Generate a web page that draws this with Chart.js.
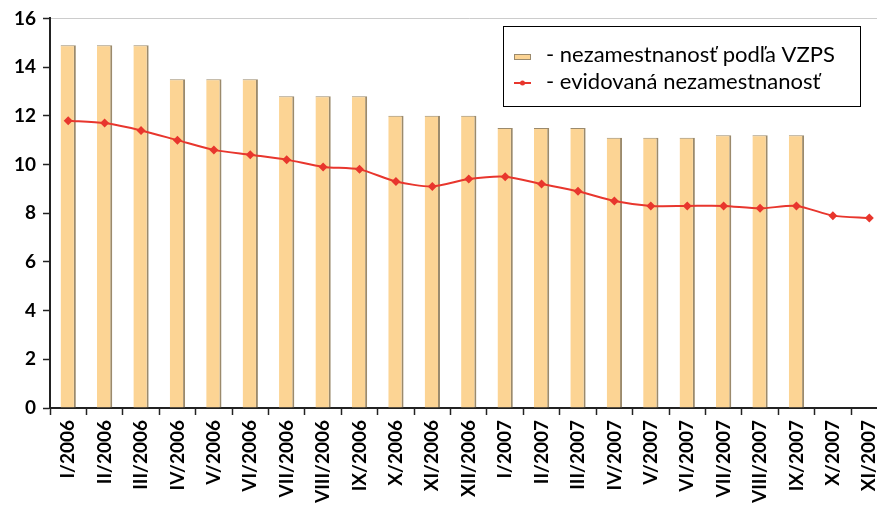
<!DOCTYPE html>
<html>
<head>
<meta charset="utf-8">
<script src="https://cdn.jsdelivr.net/npm/chart.js@4/dist/chart.umd.min.js"></script>
<style>
  html, body { margin: 0; padding: 0; background: #fff; overflow: hidden; }
  #wrap { width: 877px; height: 506px; position: relative; overflow: hidden; }
</style>
</head>
<body>
<!-- the plot runs a little past the right edge, as in the original -->
<div id="wrap"><canvas id="chart" width="892" height="506"></canvas></div>
<script>
// months
const labels = ["I/2006", "II/2006", "III/2006", "IV/2006", "V/2006", "VI/2006", "VII/2006", "VIII/2006",
  "IX/2006", "X/2006", "XI/2006", "XII/2006", "I/2007", "II/2007", "III/2007", "IV/2007", "V/2007",
  "VI/2007", "VII/2007", "VIII/2007", "IX/2007", "X/2007", "XI/2007"];

// nezamestnanost podla VZPS (quarterly, repeated per month)
const vzps = [14.9, 14.9, 14.9, 13.5, 13.5, 13.5, 12.8, 12.8, 12.8, 12.0, 12.0, 12.0,
  11.5, 11.5, 11.5, 11.1, 11.1, 11.1, 11.2, 11.2, 11.2, null, null];

// evidovana nezamestnanost
const evid = [11.8, 11.7, 11.4, 11.0, 10.6, 10.4, 10.2, 9.9, 9.8, 9.3, 9.1, 9.4,
  9.5, 9.2, 8.9, 8.5, 8.3, 8.3, 8.3, 8.2, 8.3, 7.9, 7.8];

const yTicks = [0, 2, 4, 6, 8, 10, 12, 14, 16];

const barColor = "#fcd494";
const barEdge = "#9b8a6c";
const lineColor = "#e8362d";

// legend box like in the original
const boxLegend = {
  id: "boxLegend",
  afterDraw(chart) {
    const ctx = chart.ctx;
    const bars = chart.data.datasets.find(d => d.type === "bar");
    const line = chart.data.datasets.find(d => d.type === "line");
    const x = 503, y = 26, w = 357, h = 80;
    ctx.save();
    ctx.fillStyle = "#fff";
    ctx.fillRect(x, y, w, h);
    ctx.strokeStyle = "#000";
    ctx.lineWidth = 1;
    ctx.strokeRect(x + 0.5, y + 0.5, w, h);

    ctx.font = "22px Lato";
    ctx.textBaseline = "middle";

    // bar item
    ctx.fillStyle = barColor;
    ctx.fillRect(514, 54, 17, 6);
    ctx.strokeStyle = barEdge;
    ctx.strokeRect(514.5, 54.5, 16, 5);
    ctx.fillStyle = "#000";
    ctx.fillText("- " + bars.label, 546, 55);

    // line item
    ctx.strokeStyle = lineColor;
    ctx.lineWidth = 2;
    ctx.beginPath();
    ctx.moveTo(514, 83);
    ctx.lineTo(531, 83);
    ctx.stroke();
    ctx.fillStyle = lineColor;
    ctx.beginPath();
    ctx.arc(522.5, 83, 2.5, 0, Math.PI * 2);
    ctx.fill();
    ctx.fillStyle = "#000";
    ctx.fillText("- " + line.label, 546, 82);
    ctx.restore();
  }
};

new Chart(document.getElementById("chart"), {
  data: {
    labels: labels,
    datasets: [
      {
        type: "line",
        label: "evidovaná nezamestnanosť",
        data: evid,
        borderColor: lineColor,
        backgroundColor: lineColor,
        borderWidth: 2,
        tension: 0.25,
        pointStyle: "rectRot",
        pointRadius: 4.5,
        pointBorderWidth: 0,
        order: 0
      },
      {
        type: "bar",
        label: "nezamestnanosť podľa VZPS",
        data: vzps,
        backgroundColor: barColor,
        borderColor: barEdge,
        borderWidth: { top: 1, right: 2, left: 0, bottom: 0 },
        borderSkipped: false,
        barPercentage: 0.42,
        categoryPercentage: 1,
        order: 1
      }
    ]
  },
  options: {
    responsive: false,
    animation: false,
    layout: { padding: { top: 17, right: 0, left: 0, bottom: 0 } },
    plugins: {
      legend: { display: false },
      tooltip: { enabled: false }
    },
    scales: {
      x: {
        offset: true,
        grid: {
          offset: true,
          drawOnChartArea: false,
          tickLength: 7,
          tickColor: "#222",
          tickWidth: 1.5
        },
        border: { color: "#222", width: 2 },
        ticks: {
          autoSkip: false,
          maxRotation: 90,
          minRotation: 90,
          color: "#000",
          padding: 5,
          font: { family: "Lato", size: 19, weight: "bold" }
        },
        afterFit(scale) {
          scale.height = 98;
          scale.paddingLeft = 0;
          scale.paddingRight = 0;
        }
      },
      y: {
        min: 0,
        max: 16,
        afterBuildTicks(scale) { scale.ticks = yTicks.map(v => ({ value: v })); },
        grid: {
          color: ctx => ctx.tick && ctx.tick.value === 16 ? "#cccccc" : "rgba(0,0,0,0)",
          tickColor: "#222",
          tickLength: 7,
          tickWidth: 1.5
        },
        border: { color: "#222", width: 2 },
        ticks: {
          color: "#000",
          padding: 7,
          font: { family: "Lato", size: 19, weight: "bold" }
        },
        afterFit(scale) { scale.width = 50; }
      }
    }
  },
  plugins: [boxLegend]
});
</script>
</body>
</html>
